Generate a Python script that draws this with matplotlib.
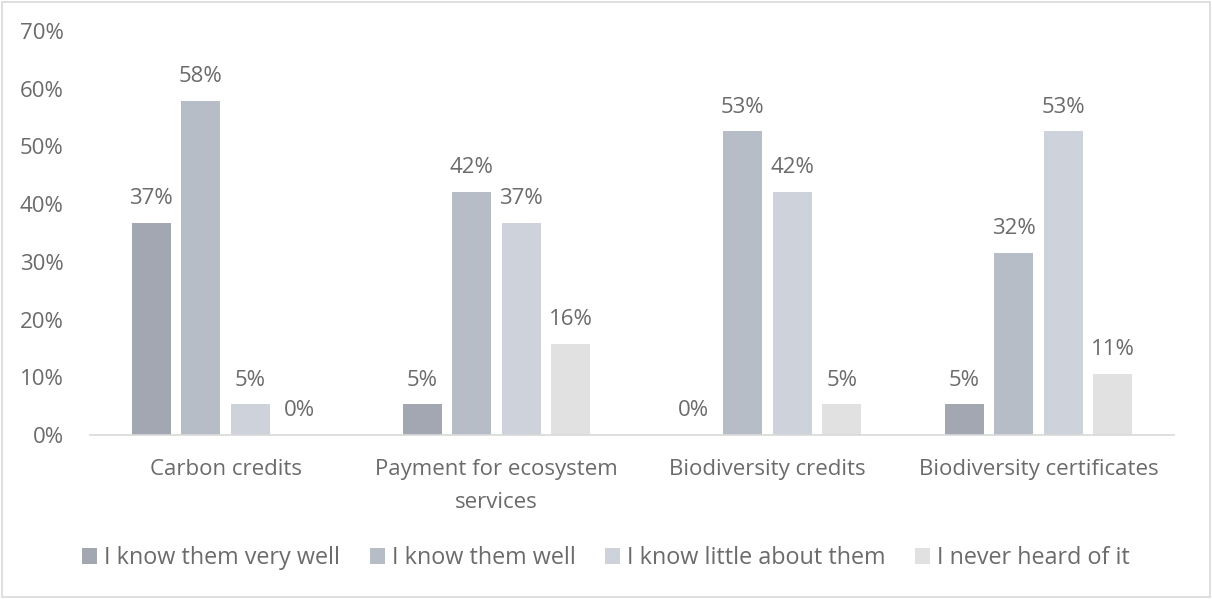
import numpy as np
import matplotlib.pyplot as plt
from matplotlib.patches import Rectangle

plt.rcParams['font.family'] = ['Open Sans', 'DejaVu Sans']

categories = ["Carbon credits", "Payment for ecosystem\nservices",
              "Biodiversity credits", "Biodiversity certificates"]
series = ["I know them very well", "I know them well",
          "I know little about them", "I never heard of it"]
very_well = [36.8, 5.3, 0.0, 5.3]
well = [57.9, 42.1, 52.6, 31.6]
little = [5.3, 36.8, 42.1, 52.6]
never = [0.0, 15.8, 5.3, 10.53]
colors = ["#A2A7B2", "#B7BDC6", "#CED3DB", "#E1E1E1"]
yticks = [0, 10, 20, 30, 40, 50, 60, 70]
text_color = "#6B6B6B"
fs = 16

fig = plt.figure(figsize=(12.12, 5.99), dpi=100)
ax = fig.add_axes([0.0743, 0.2738, 0.8943, 0.6744])

x = np.arange(len(categories))
step = 0.183
width = 0.144
for i, (vals, name) in enumerate(zip([very_well, well, little, never], series)):
    pos = x + (i - 1.5) * step
    ax.bar(pos, vals, width, color=colors[i], label=name)
    for xp, v in zip(pos, vals):
        ax.annotate(f"{round(v)}%", (xp, v), xytext=(0, 10), textcoords="offset points",
                    ha="center", va="bottom", fontsize=fs, color=text_color)

ax.set_xlim(-0.5, 3.5)
ax.set_ylim(0, 70)
ax.set_yticks(yticks)
ax.set_yticklabels([f"{t}%" for t in yticks])
ax.set_xticks(x)
ax.set_xticklabels(categories, linespacing=1.75)
ax.tick_params(axis="both", length=0, labelsize=fs, colors=text_color)
ax.tick_params(axis="y", pad=19)
ax.tick_params(axis="x", pad=17)
for s in ["top", "right", "left"]:
    ax.spines[s].set_visible(False)
ax.spines["bottom"].set_color("#D9D9D9")
ax.spines["bottom"].set_linewidth(1.2)

leg = fig.legend(loc="center", bbox_to_anchor=(0.5, 0.068), ncol=4, frameon=False,
                 fontsize=16.8, handlelength=0.64, handleheight=0.64, handletextpad=0.3,
                 columnspacing=1.27)
for t in leg.get_texts():
    t.set_color(text_color)

fig.patches.append(Rectangle((0.002, 0.003), 0.996, 0.994, transform=fig.transFigure,
                             fill=False, edgecolor="#D9D9D9", linewidth=1.2))

fig.savefig("out.png", dpi=100)
